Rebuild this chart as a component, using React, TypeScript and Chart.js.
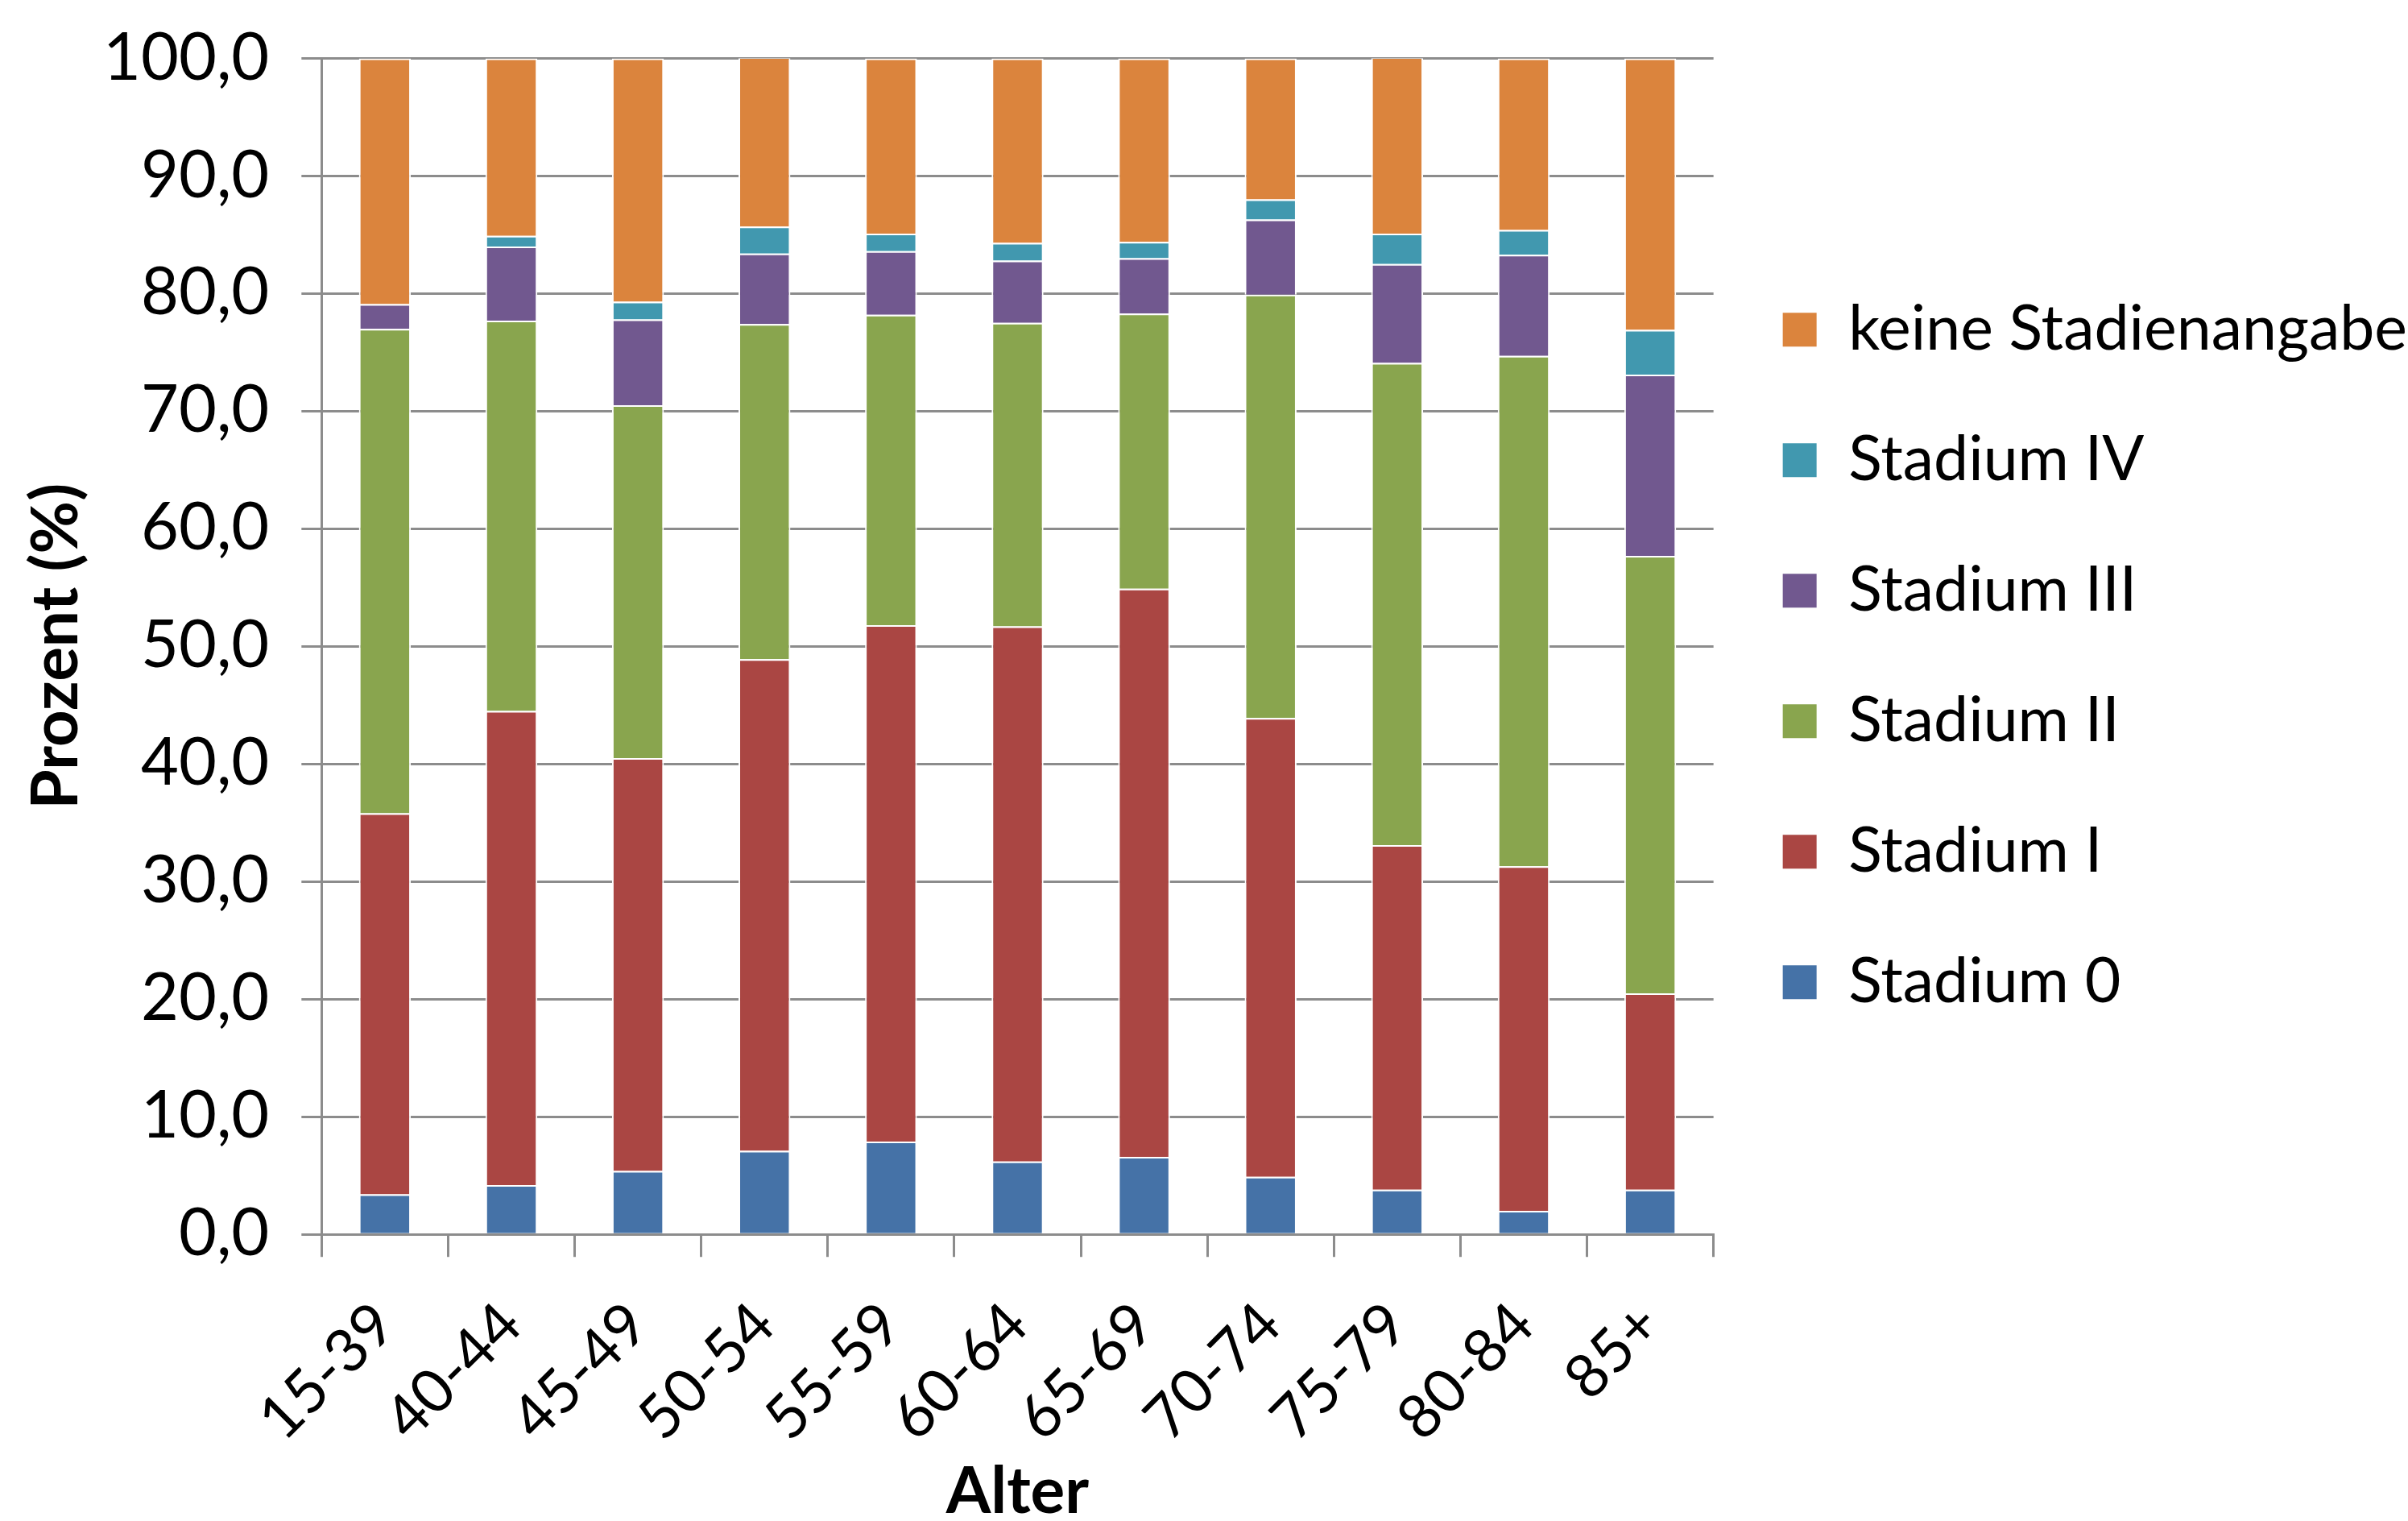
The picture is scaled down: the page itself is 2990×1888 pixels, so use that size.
import React, { useEffect, useRef } from "react";
import { Chart, registerables } from "chart.js";

Chart.register(...registerables);

const categories = ["15-39", "40-44", "45-49", "50-54", "55-59", "60-64", "65-69", "70-74", "75-79", "80-84", "85+"];
const stadium0 = [3.4, 4.2, 5.4, 7.1, 7.9, 6.2, 6.6, 4.9, 3.8, 2.0, 3.8];
const stadium1 = [32.4, 40.3, 35.1, 41.8, 43.9, 45.5, 48.3, 39.0, 29.3, 29.3, 16.7];
const stadium2 = [41.2, 33.2, 30.0, 28.5, 26.4, 25.8, 23.4, 36.0, 41.0, 43.4, 37.2];
const stadium3 = [2.1, 6.3, 7.3, 6.0, 5.4, 5.3, 4.7, 6.4, 8.4, 8.6, 15.4];
const stadium4 = [0.0, 0.9, 1.5, 2.3, 1.5, 1.5, 1.4, 1.7, 2.6, 2.1, 3.8];
const keineAngabe = [20.9, 15.1, 20.7, 14.4, 14.9, 15.7, 15.6, 12.0, 15.0, 14.6, 23.1];

const seriesNames = ["Stadium 0", "Stadium I", "Stadium II", "Stadium III", "Stadium IV", "keine Stadienangabe"];
const seriesColors = ["#4572A7", "#AA4643", "#89A54E", "#71588F", "#4198AF", "#DB843D"];

const FONT = "Lato, 'Open Sans', sans-serif";
const GRID = "#8c8c8c";

export default function App() {
  const ref = useRef<HTMLCanvasElement | null>(null);

  useEffect(() => {
    document.body.style.margin = "0";
    const values = [stadium0, stadium1, stadium2, stadium3, stadium4, keineAngabe];
    const chart = new Chart(ref.current as HTMLCanvasElement, {
      type: "bar",
      data: {
        labels: categories,
        datasets: values.map((v, i) => ({
          label: seriesNames[i],
          data: v,
          backgroundColor: seriesColors[i],
          borderColor: "#ffffff",
          borderWidth: 2,
          barPercentage: 0.41,
          categoryPercentage: 1,
        })),
      },
      options: {
        animation: false,
        responsive: true,
        maintainAspectRatio: false,
        devicePixelRatio: 1,
        layout: { padding: { top: 4, left: 0, right: -9, bottom: 0 } },
        plugins: {
          tooltip: { enabled: false },
          legend: {
            position: "right",
            reverse: true,
            fullSize: false,
            maxWidth: 1000,
            title: { display: true, text: " ", font: { size: 10 }, padding: 6 },
            labels: {
              font: { family: FONT, size: 77 },
              color: "#000",
              boxWidth: 44,
              boxHeight: 44,
              padding: 85,
            },
          },
        },
        scales: {
          x: {
            stacked: true,
            offset: true,
            grid: {
              offset: true,
              drawOnChartArea: false,
              drawTicks: true,
              tickLength: 28,
              color: GRID,
              lineWidth: 3,
            },
            border: { color: GRID, width: 3 },
            ticks: {
              font: { family: FONT, size: 75, lineHeight: 1.0 },
              color: "#000",
              minRotation: 45,
              maxRotation: 45,
              padding: 45,
            },
            title: {
              display: true,
              text: "Alter",
              font: { family: FONT, size: 80, weight: "bold", lineHeight: 0.9 },
              color: "#000",
              padding: { top: -30, bottom: 0 },
            },
          },
          y: {
            stacked: true,
            min: 0,
            max: 100,
            grid: {
              color: GRID,
              lineWidth: 3,
              tickLength: 25,
            },
            border: { color: GRID, width: 3 },
            ticks: {
              stepSize: 10,
              font: { family: FONT, size: 81, lineHeight: 0.8 },
              color: "#000",
              padding: 40,
              callback: (v: any) => Number(v).toFixed(1).replace(".", ","),
            },
            title: {
              display: true,
              text: "Prozent (%)",
              font: { family: FONT, size: 80, weight: "bold" },
              color: "#000",
              padding: { top: 22, bottom: -30 },
            },
          },
        },
      },
    });
    return () => chart.destroy();
  }, []);

  return (
    <div style={{ width: "2990px", height: "1888px", position: "relative", background: "#fff" }}>
      <canvas ref={ref} />
    </div>
  );
}
